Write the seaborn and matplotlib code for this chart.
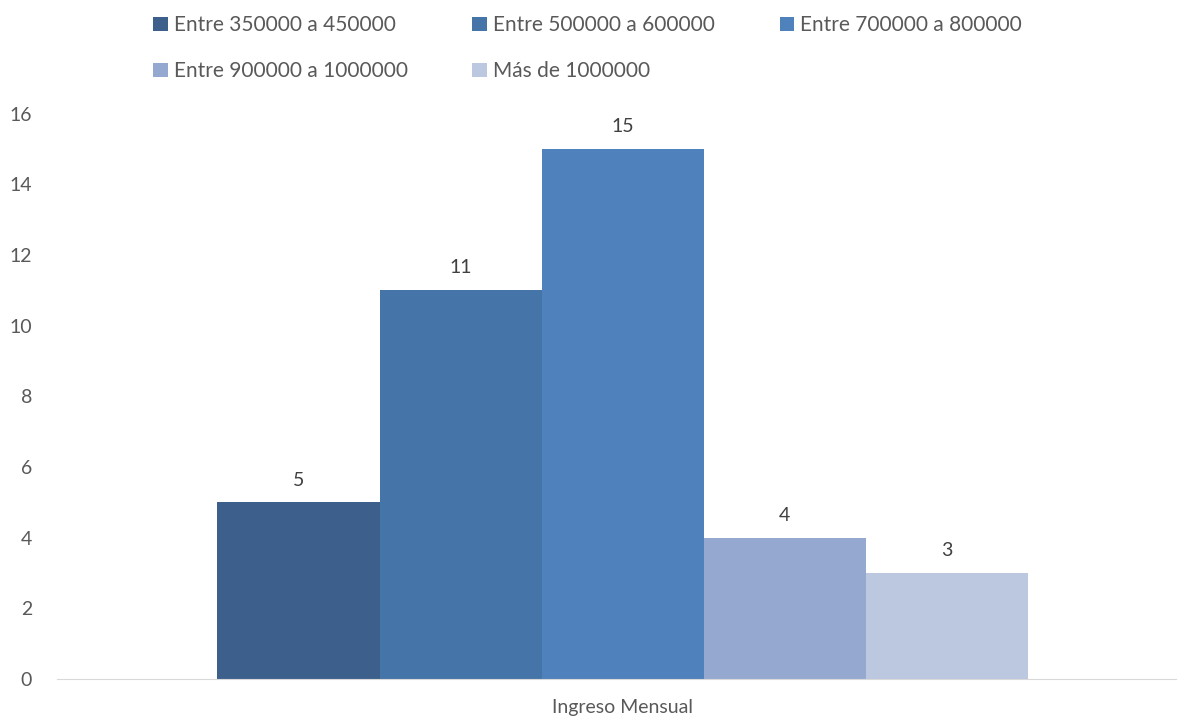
import seaborn as sns
import matplotlib.pyplot as plt
import pandas as pd

# data
rangos = ["Entre 350000 a 450000", "Entre 500000 a 600000", "Entre 700000 a 800000",
          "Entre 900000 a 1000000", "Más de 1000000"]
valores = [5, 11, 15, 4, 3]
categoria = "Ingreso Mensual"
colores = ["#3C5F8C", "#4574A8", "#4F81BD", "#95A9D0", "#BBC8E0"]

df = pd.DataFrame({"cat": [categoria] * len(rangos), "rango": rangos, "n": valores})

sns.set_style("white")
plt.rcParams['font.family'] = ['Lato', 'DejaVu Sans']
gris = "#595959"

fig = plt.figure(figsize=(11.87, 7.24), dpi=100)
ax = fig.add_axes([0.048, 0.062, 0.943, 0.781])

sns.barplot(data=df, x="cat", y="n", hue="rango", hue_order=rangos,
            palette=colores, width=0.724, saturation=1, linewidth=0,
            ax=ax, legend=True)

for c in ax.containers:
    ax.bar_label(c, fontsize=14, color="#404040", padding=10)

ax.set_ylim(0, 16)
ax.set_yticks(range(0, 17, 2))
ax.set_xlim(-0.5054, 0.4946)
ax.set_xlabel("")
ax.set_ylabel("")
ax.tick_params(axis="both", labelsize=14, colors=gris, length=0)
ax.tick_params(axis="x", pad=14)
ax.tick_params(axis="y", pad=18)
sns.despine(ax=ax, left=True)
ax.spines["bottom"].set_color("#D9D9D9")

handles, labels = ax.get_legend_handles_labels()
ax.get_legend().remove()
orden = [0, 3, 1, 4, 2]
fig.legend([handles[i] for i in orden], [labels[i] for i in orden],
           loc="upper center", bbox_to_anchor=(0.495, 1.005), ncol=3, frameon=False,
           fontsize=15, labelcolor=gris, handlelength=0.7, handleheight=0.7,
           handletextpad=0.3, columnspacing=3.1, labelspacing=1.25)

fig.savefig("out.png", dpi=100)
